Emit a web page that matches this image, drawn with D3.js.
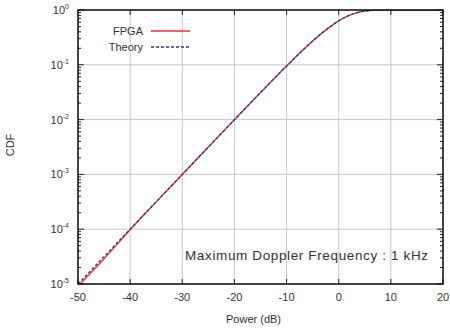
<!DOCTYPE html>
<html>
<head>
<meta charset="utf-8">
<script src="https://cdn.jsdelivr.net/npm/d3@7"></script>
<style>
  body { margin: 0; background: #fff; }
  svg { display: block; font-family: "Liberation Sans", Arial, sans-serif; }
  .tick-label { font-size: 11px; fill: #333; }
  .axis-label { font-size: 11px; fill: #333; }
  .note { font-size: 13.5px; fill: #333; }
</style>
</head>
<body>
<div id="chart"></div>
<script>
// --- Data ---
const xTickValues = [-50, -40, -30, -20, -10, 0, 10, 20];
const yExponents = [0, -1, -2, -3, -4, -5];

const theoryPower = [-50, -45, -40, -35, -30, -25, -20, -15, -10, -7, -5, -3, -1, 0, 1, 2, 3, 4, 5, 6, 7, 8, 10, 15, 20];
const theoryCdf = [1.0e-5, 3.16e-5, 1.0e-4, 3.16e-4, 1.0e-3, 3.16e-3, 9.95e-3, 3.11e-2, 0.0952, 0.181, 0.271, 0.394, 0.548, 0.632, 0.716, 0.795, 0.865, 0.919, 0.958, 0.981, 0.993, 0.998, 1.0, 1.0, 1.0];

const fpgaPower = [-49.6, -45, -40, -35, -30, -25, -20, -15, -10, -7, -5, -3, -1, 0, 1, 2, 3, 4, 5, 6, 7, 8, 10, 15, 20];
const fpgaCdf = [1.0e-5, 2.9e-5, 9.8e-5, 3.15e-4, 1.0e-3, 3.16e-3, 9.95e-3, 3.11e-2, 0.0952, 0.181, 0.271, 0.394, 0.548, 0.632, 0.716, 0.795, 0.865, 0.919, 0.958, 0.981, 0.993, 0.998, 1.0, 1.0, 1.0];

const legendLabels = ['FPGA', 'Theory'];
const noteText = 'Maximum Doppler Frequency : 1 kHz';

// --- Layout ---
const W = 450, H = 333;
const margin = { top: 10, right: 7, bottom: 49, left: 78 };
const width = W - margin.left - margin.right;
const height = H - margin.top - margin.bottom;

const svgEl = d3.select('#chart').append('svg').attr('width', W).attr('height', H);
const svg = svgEl.append('g').attr('transform', `translate(${margin.left},${margin.top})`);

const x = d3.scaleLinear().domain([-50, 20]).range([0, width]);
const y = d3.scaleLog().domain([1e-5, 1]).range([height, 0]);

svgEl.append('defs').append('clipPath').attr('id', 'clip')
  .append('rect').attr('width', width).attr('height', height);

// Grid
xTickValues.forEach(t => {
  svg.append('line').attr('x1', x(t)).attr('x2', x(t)).attr('y1', 0).attr('y2', height)
    .attr('stroke', '#c8c8c8').attr('stroke-width', 1);
});
yExponents.forEach(e => {
  svg.append('line').attr('x1', 0).attr('x2', width).attr('y1', y(10 ** e)).attr('y2', y(10 ** e))
    .attr('stroke', '#c8c8c8').attr('stroke-width', 1);
});

// Ticks (inside, all four sides)
xTickValues.forEach(t => {
  svg.append('line').attr('x1', x(t)).attr('x2', x(t)).attr('y1', height).attr('y2', height - 5).attr('stroke', '#222');
  svg.append('line').attr('x1', x(t)).attr('x2', x(t)).attr('y1', 0).attr('y2', 5).attr('stroke', '#222');
  svg.append('text').attr('class', 'tick-label').attr('x', x(t)).attr('y', height + 17)
    .attr('text-anchor', 'middle').text(t);
});
yExponents.forEach(e => {
  const v = 10 ** e;
  svg.append('line').attr('x1', 0).attr('x2', 6).attr('y1', y(v)).attr('y2', y(v)).attr('stroke', '#222');
  svg.append('line').attr('x1', width).attr('x2', width - 6).attr('y1', y(v)).attr('y2', y(v)).attr('stroke', '#222');
  if (e < 0) {
    for (let m = 2; m <= 9; m++) {
      const mv = m * v;
      svg.append('line').attr('x1', 0).attr('x2', 3).attr('y1', y(mv)).attr('y2', y(mv)).attr('stroke', '#222');
      svg.append('line').attr('x1', width).attr('x2', width - 3).attr('y1', y(mv)).attr('y2', y(mv)).attr('stroke', '#222');
    }
  }
  const lbl = svg.append('text').attr('class', 'tick-label').attr('x', -9).attr('y', y(v) + 4)
    .attr('text-anchor', 'end');
  lbl.append('tspan').text('10');
  lbl.append('tspan').attr('dy', -5).style('font-size', '7px').text(e);
});

// Curves
const line = d3.line().x(d => x(d[0])).y(d => y(d[1])).curve(d3.curveMonotoneX);
const plot = svg.append('g').attr('clip-path', 'url(#clip)');
plot.append('path').datum(d3.zip(fpgaPower, fpgaCdf)).attr('d', line)
  .attr('fill', 'none').attr('stroke', '#e8333a').attr('stroke-width', 1.4);
plot.append('path').datum(d3.zip(theoryPower, theoryCdf)).attr('d', line)
  .attr('fill', 'none').attr('stroke', '#2a3a7a').attr('stroke-width', 1.3)
  .attr('stroke-dasharray', '3,2');

// Frame
svg.append('rect').attr('width', width).attr('height', height)
  .attr('fill', 'none').attr('stroke', '#111').attr('stroke-width', 1.5);

// Legend
const legendStyles = [
  { stroke: '#e8333a', dash: null },
  { stroke: '#2a3a7a', dash: '3,2' }
];
legendLabels.forEach((name, i) => {
  const ly = 21 + i * 16;
  svg.append('text').attr('class', 'tick-label').attr('x', 65).attr('y', ly + 4)
    .attr('text-anchor', 'end').text(name);
  svg.append('line').attr('x1', 73).attr('x2', 112).attr('y1', ly).attr('y2', ly)
    .attr('stroke', legendStyles[i].stroke).attr('stroke-width', 1.3)
    .attr('stroke-dasharray', legendStyles[i].dash);
});

// Annotation
svg.append('text').attr('class', 'note').attr('x', 107).attr('y', 250)
  .attr('textLength', 243).attr('lengthAdjust', 'spacing').text(noteText);

// Axis labels
svg.append('text').attr('class', 'axis-label').attr('x', width / 2 - 7).attr('y', height + 39)
  .attr('text-anchor', 'middle').text('Power (dB)');
svg.append('text').attr('class', 'axis-label').attr('transform', 'rotate(-90)')
  .attr('x', -(145 - margin.top)).attr('y', -64).attr('text-anchor', 'middle').text('CDF');
</script>
</body>
</html>
